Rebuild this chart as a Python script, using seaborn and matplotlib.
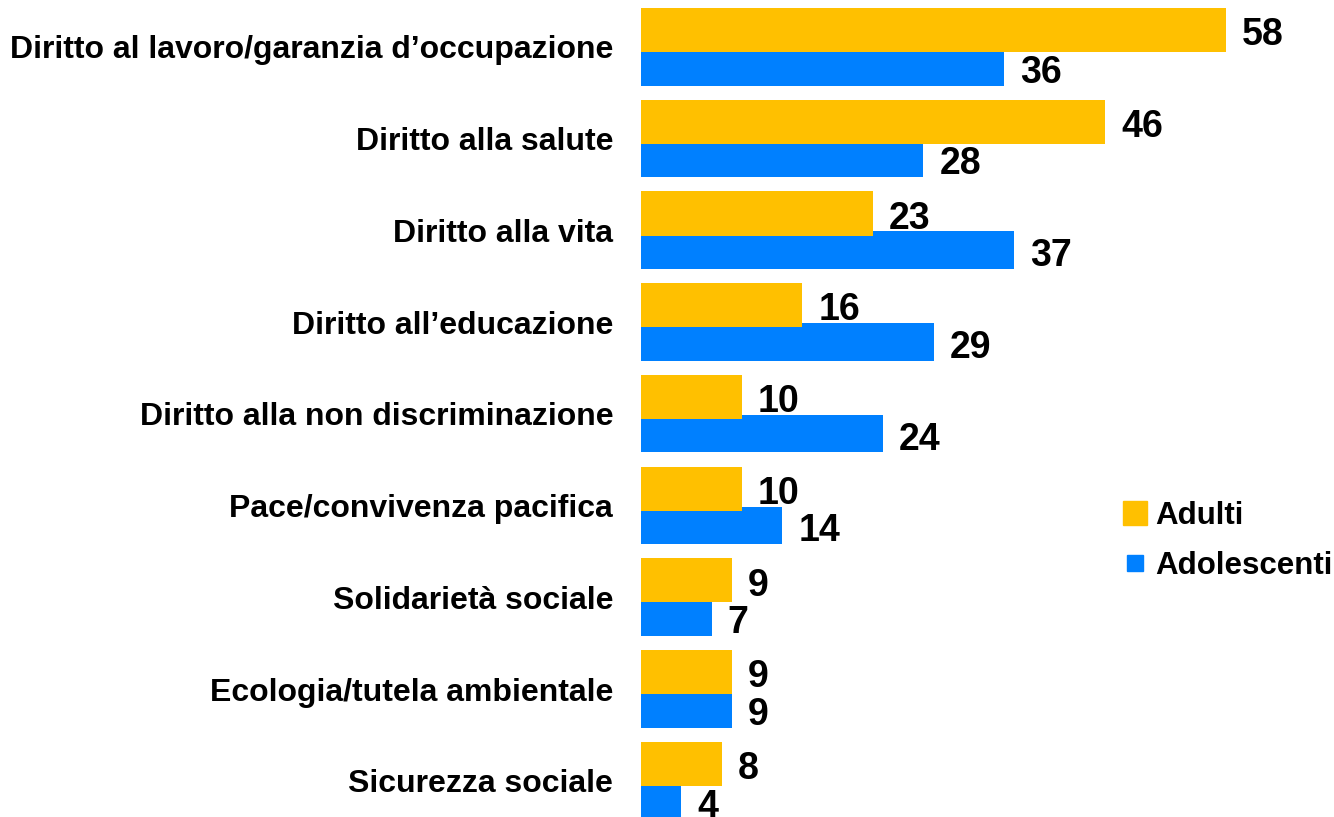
import numpy as np
import pandas as pd
import matplotlib
matplotlib.use("Agg")
import matplotlib.pyplot as plt
import seaborn as sns
from matplotlib.lines import Line2D

# -----------------------------
# Data
# -----------------------------
categories = [
    "Diritto al lavoro/garanzia d\u2019occupazione",
    "Diritto alla salute",
    "Diritto alla vita",
    "Diritto all\u2019educazione",
    "Diritto alla non discriminazione",
    "Pace/convivenza pacifica",
    "Solidariet\u00e0 sociale",
    "Ecologia/tutela ambientale",
    "Sicurezza sociale",
]
adulti = [58, 46, 23, 16, 10, 10, 9, 9, 8]
adolescenti = [36, 28, 37, 29, 24, 14, 7, 9, 4]
series_names = ["Adulti", "Adolescenti"]
colors = ["#FFC000", "#0080FF"]

df = pd.DataFrame({
    "categoria": categories * 2,
    "valore": adulti + adolescenti,
    "gruppo": [series_names[0]] * len(categories) + [series_names[1]] * len(categories),
})

# -----------------------------
# Plot
# -----------------------------
sns.set_theme(style="white")
plt.rcParams["font.family"] = ["Liberation Sans", "DejaVu Sans"]

fig = plt.figure(figsize=(13.34, 8.17), dpi=100)
ax = fig.add_axes([641 / 1334, 0, 693 / 1334, 1])

sns.barplot(data=df, y="categoria", x="valore", hue="gruppo", order=categories,
            hue_order=series_names, palette=colors, orient="h", width=0.84,
            legend=False, ax=ax, saturation=1)

# bar geometry: orange slightly taller, overlapping the blue one
n = len(categories)
patches = ax.patches
orange_bars = patches[:n]
blue_bars = patches[n:2 * n]
for i, p in enumerate(orange_bars):
    p.set_y(i - 0.425)
    p.set_height(0.48)
    p.set_zorder(3)
    p.set_linewidth(0)
for i, p in enumerate(blue_bars):
    p.set_y(i + 0.01)
    p.set_height(0.41)
    p.set_zorder(2)
    p.set_linewidth(0)

# value labels
for i, p in enumerate(orange_bars):
    ax.text(p.get_width() + 1.6, i - 0.13, f"{adulti[i]}", va="center", ha="left",
            fontsize=27, fontweight="bold", color="black")
for i, p in enumerate(blue_bars):
    ax.text(p.get_width() + 1.6, i + 0.28, f"{adolescenti[i]}", va="center", ha="left",
            fontsize=27, fontweight="bold", color="black")

ax.set_xlim(0, 68.7)
ax.set_ylim(8.393, -0.512)
ax.set_xlabel("")
ax.set_ylabel("")
ax.set_xticks([])
sns.despine(ax=ax, left=True, bottom=True)
ax.tick_params(axis="y", length=0, pad=20)
for lbl in ax.get_yticklabels():
    lbl.set_fontsize(23)
    lbl.set_fontweight("bold")
    lbl.set_color("black")

handles = [
    Line2D([0], [0], marker="s", linestyle="", markersize=17, color=colors[0]),
    Line2D([0], [0], marker="s", linestyle="", markersize=12, color=colors[1]),
]
leg = fig.legend(handles, series_names, loc="center left",
                 bbox_to_anchor=(1119 / 1334, 1 - 541 / 817), frameon=False,
                 borderpad=0, borderaxespad=0,
                 handletextpad=0.15, labelspacing=0.65, handlelength=1.0,
                 prop={"size": 22.5, "weight": "bold"})
for t in leg.get_texts():
    t.set_color("black")

fig.savefig("out.png", dpi=100)
